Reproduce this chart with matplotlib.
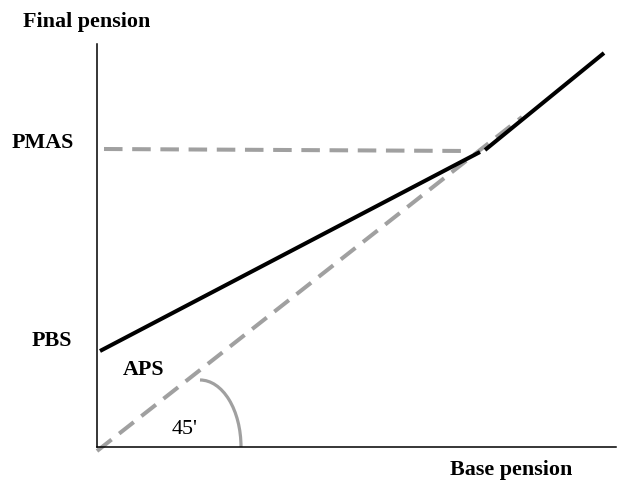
import matplotlib
matplotlib.use("Agg")
import matplotlib.pyplot as plt
from matplotlib.patches import Arc

# Data (in chart units: x = base pension, y = final pension)
pbs_line_x = [3, 383]
pbs_line_y = [96, 295]
upper_line_x = [388, 507]
upper_line_y = [297, 394]
pmas_x = [7, 373]
pmas_y = [298, 296]
diag_x = [0, 425]
diag_y = [-4, 330]

plt.rcParams['font.family'] = ['Liberation Serif', 'DejaVu Serif']

fig = plt.figure(figsize=(6.19, 4.81), dpi=100)
W, H = 619, 481
x0, y0 = 97, 448
x1, y1 = 616, 45
ax = fig.add_axes([x0 / W, (H - y0) / H, (x1 - x0) / W, (y0 - y1) / H])
ax.set_xlim(0, x1 - x0)
ax.set_ylim(0, y0 - y1)
for s in ['top', 'right']:
    ax.spines[s].set_visible(False)
for s in ['left', 'bottom']:
    ax.spines[s].set_linewidth(1.1)
ax.set_xticks([])
ax.set_yticks([])

gray = '#a0a0a0'
dash = (0, (4.6, 2.4))
ax.plot(diag_x, diag_y, color=gray, lw=2.9, linestyle=dash, clip_on=False, zorder=2)
ax.plot(pmas_x, pmas_y, color=gray, lw=2.9, linestyle=dash, zorder=2)
ax.plot(pbs_line_x, pbs_line_y, color='black', lw=2.9, solid_capstyle='butt', zorder=3)
ax.plot(upper_line_x, upper_line_y, color='black', lw=2.9, solid_capstyle='butt', zorder=3)

arc = Arc((103, 0), 82, 134, theta1=0, theta2=90, color=gray, lw=2.3, zorder=2)
ax.add_patch(arc)

fs = 15.8
fig.text(23 / W, 1 - 22 / H, 'Final pension', fontsize=fs, fontweight='bold', ha='left', va='center')
fig.text(12 / W, 1 - 143 / H, 'PMAS', fontsize=fs, fontweight='bold', ha='left', va='center')
fig.text(32 / W, 1 - 341 / H, 'PBS', fontsize=fs, fontweight='bold', ha='left', va='center')
fig.text(123 / W, 1 - 370 / H, 'APS', fontsize=fs, fontweight='bold', ha='left', va='center')
fig.text(172 / W, 1 - 430 / H, "45'", fontsize=fs, ha='left', va='center')
fig.text(450 / W, 1 - 470 / H, 'Base pension', fontsize=fs, fontweight='bold', ha='left', va='center')

fig.savefig('out.png', dpi=100)
